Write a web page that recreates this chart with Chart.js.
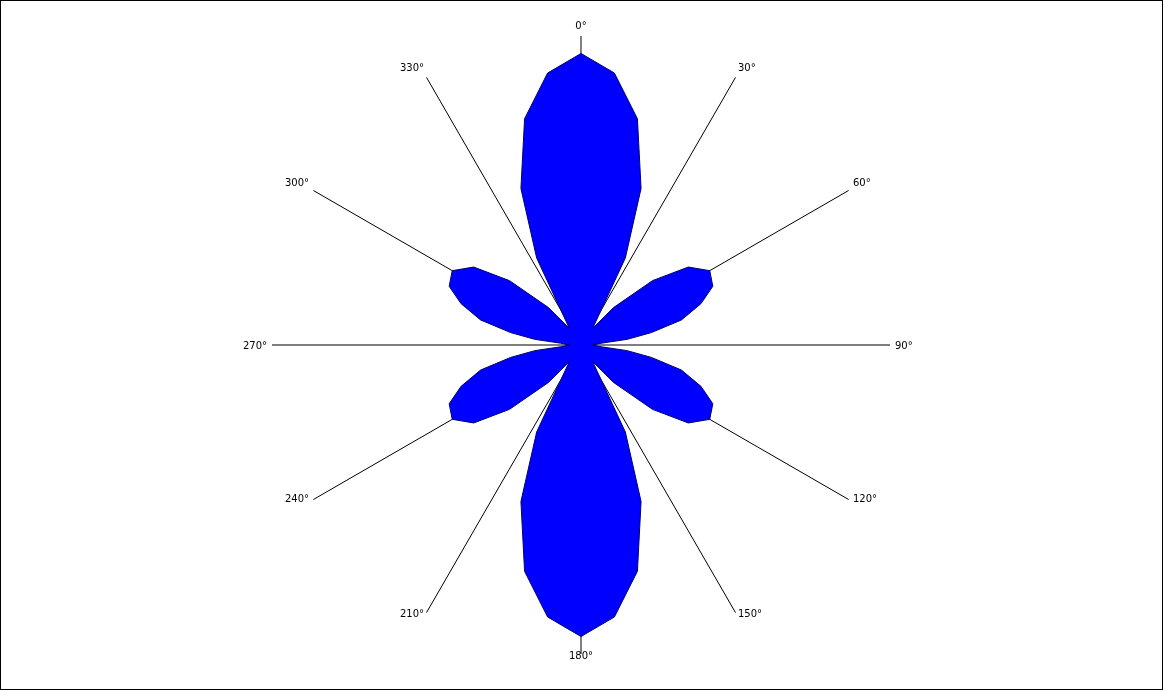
<!DOCTYPE html>
<html>
<head>
<meta charset="utf-8">
<script src="https://cdn.jsdelivr.net/npm/chart.js@4/dist/chart.umd.min.js"></script>
<style>
  html, body { margin: 0; padding: 0; background: #fff; }
  #wrap { width: 1163px; height: 690px; box-sizing: border-box; border: 1px solid #000; background: #fff; }
  canvas { display: block; }
</style>
</head>
<body>
<div id="wrap"><canvas id="c" width="1161" height="688"></canvas></div>
<script>
// Tick labels shown on the angle axis and their angles (degrees)
const tickLabels = ['0°','30°','60°','90°','120°','150°','180°','210°','240°','270°','300°','330°'];
const tickAngles = [0, 30, 60, 90, 120, 150, 180, 210, 240, 270, 300, 330];

// Polygon vertices: angle (degrees, clockwise from top) and radius value
const vertexAngles = [
  0, 7, 14, 21, 27, 35, 41, 48, 54, 60, 66, 71, 76, 80, 83, 85,
  90, 95, 97, 100, 104, 109, 114, 120, 126, 132, 139, 145, 153, 159, 166, 173,
  180, 187, 194, 201, 207, 215, 221, 228, 234, 240, 246, 251, 256, 260, 263, 265,
  270, 275, 277, 280, 284, 289, 294, 300, 306, 312, 319, 325, 333, 339, 346, 353
];
const vertexValues = [
  1.00, 0.94, 0.80, 0.575, 0.335, 0.07, 0.17, 0.33, 0.455, 0.51, 0.495, 0.435, 0.355, 0.245, 0.16, 0.07,
  0.04, 0.07, 0.16, 0.245, 0.355, 0.435, 0.495, 0.51, 0.455, 0.33, 0.17, 0.07, 0.335, 0.575, 0.80, 0.94,
  1.00, 0.94, 0.80, 0.575, 0.335, 0.07, 0.17, 0.33, 0.455, 0.51, 0.495, 0.435, 0.355, 0.245, 0.16, 0.07,
  0.04, 0.07, 0.16, 0.245, 0.355, 0.435, 0.495, 0.51, 0.455, 0.33, 0.17, 0.07, 0.335, 0.575, 0.80, 0.94
];

// Build a 1-degree category table for the radar scale
const degreeLabels = [];
const seriesData = [];
for (let d = 0; d < 360; d++) {
  degreeLabels.push(d);
  seriesData.push(null);
}
vertexAngles.forEach((a, i) => { seriesData[a] = vertexValues[i]; });

// Angle labels placed through the radial scale's own geometry
const angleLabelPlugin = {
  id: 'angleLabels',
  afterDraw(chart) {
    const scale = chart.scales.r;
    const ctx = chart.ctx;
    ctx.save();
    ctx.font = '10px "DejaVu Sans"';
    ctx.fillStyle = '#000';
    ctx.textBaseline = 'middle';
    tickLabels.forEach((text, k) => {
      const deg = tickAngles[k];
      const p = scale.getPointPosition(deg, scale.drawingArea + 5);
      let align = 'center';
      if (deg > 0 && deg < 180) align = 'left';
      else if (deg > 180) align = 'right';
      let dy;
      if (deg === 90 || deg === 270) dy = 1;
      else if (deg < 90 || deg > 270) dy = -5;
      else dy = -3;
      ctx.textAlign = align;
      ctx.fillText(text, p.x, p.y + dy);
    });
    ctx.restore();
  }
};

new Chart(document.getElementById('c'), {
  type: 'radar',
  data: {
    labels: degreeLabels,
    datasets: [{
      data: seriesData,
      spanGaps: true,
      fill: true,
      backgroundColor: '#0000FF',
      borderColor: '#000070',
      borderWidth: 1,
      pointRadius: 0,
      pointHoverRadius: 0,
      tension: 0
    }]
  },
  options: {
    responsive: false,
    animation: false,
    devicePixelRatio: 1,
    layout: { padding: { top: 35, bottom: 35, left: 0, right: 0 } },
    plugins: { legend: { display: false }, tooltip: { enabled: false } },
    scales: {
      r: {
        min: 0,
        max: 1.06,
        grid: { display: false },
        ticks: { display: false },
        angleLines: {
          display: true,
          color: '#000',
          lineWidth: (ctx) => (ctx.index % 30 === 0 ? 1 : 0)
        },
        pointLabels: { display: false }
      }
    }
  },
  plugins: [angleLabelPlugin]
});
</script>
</body>
</html>
